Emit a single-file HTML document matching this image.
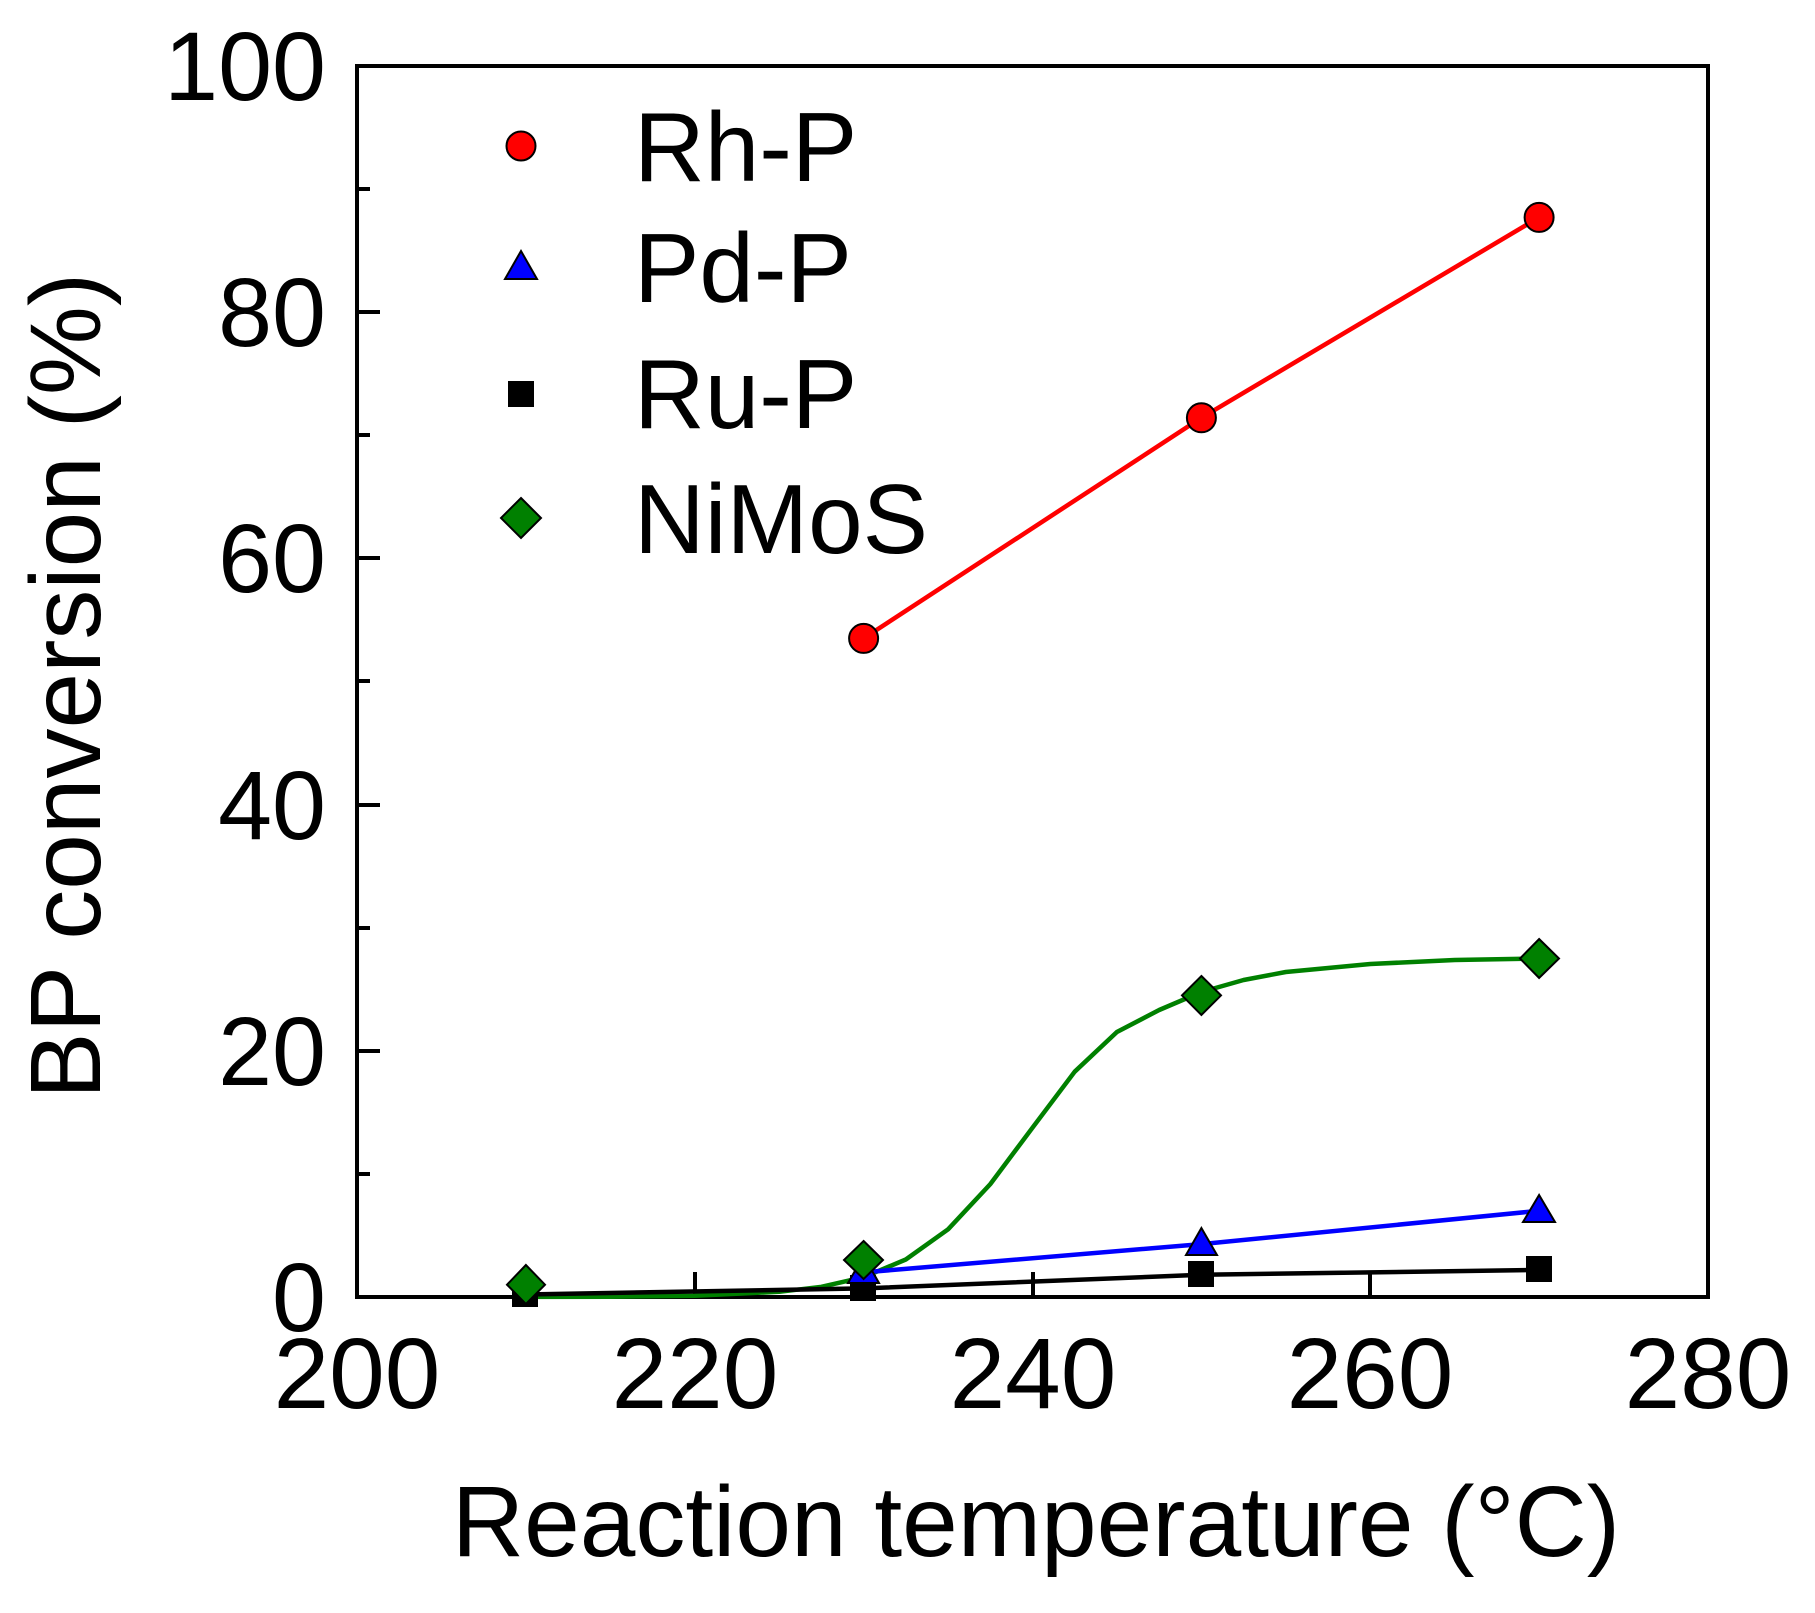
<!DOCTYPE html>
<html><head><meta charset="utf-8"><style>html,body{margin:0;padding:0;background:#fff;}</style></head>
<body>
<svg width="1815" height="1608" viewBox="0 0 1815 1608" xmlns="http://www.w3.org/2000/svg" font-family="Liberation Sans, Arial, sans-serif">
<rect width="1815" height="1608" fill="#fff"/>
<rect x="357" y="66" width="1351" height="1231" fill="none" stroke="#000" stroke-width="4"/>
<g stroke="#000" stroke-width="4">
<line x1="357" y1="189" x2="370" y2="189"/>
<line x1="357" y1="312" x2="380" y2="312"/>
<line x1="357" y1="435" x2="370" y2="435"/>
<line x1="357" y1="558" x2="380" y2="558"/>
<line x1="357" y1="681" x2="370" y2="681"/>
<line x1="357" y1="805" x2="380" y2="805"/>
<line x1="357" y1="928" x2="370" y2="928"/>
<line x1="357" y1="1051" x2="380" y2="1051"/>
<line x1="357" y1="1174" x2="370" y2="1174"/>
<line x1="695" y1="1297" x2="695" y2="1272"/>
<line x1="1033" y1="1297" x2="1033" y2="1272"/>
<line x1="1370" y1="1297" x2="1370" y2="1272"/>
</g>
<g font-size="97" text-anchor="end" fill="#000">
<text x="326" y="100">100</text>
<text x="326" y="346">80</text>
<text x="326" y="592">60</text>
<text x="326" y="839">40</text>
<text x="326" y="1085">20</text>
<text x="326" y="1331">0</text>
</g>
<g font-size="100" text-anchor="middle" fill="#000">
<text x="357" y="1408">200</text>
<text x="695" y="1408">220</text>
<text x="1033" y="1408">240</text>
<text x="1370" y="1408">260</text>
<text x="1708" y="1408">280</text>
</g>
<text x="1036" y="1556" font-size="100" text-anchor="middle">Reaction temperature (°C)</text>
<text transform="translate(100,686) rotate(-90)" font-size="100" text-anchor="middle">BP conversion (%)</text>
<g fill="none" stroke-width="4.5" stroke-linejoin="round">
<polyline points="525.9,1296.9 610.3,1296.7 694.8,1295.7 779.2,1291.8 821.4,1286.8 863.6,1277.2 905.8,1259.5 948.1,1229.3 990.3,1184.1 1032.5,1127.7 1074.7,1071.7 1116.9,1032 1159.2,1010 1201.4,992 1243.6,980 1285.8,972 1370.3,964 1454.7,960 1539.1,958.5" stroke="#008000"/>
<polyline points="525.9,1294.5 863.6,1288.4 1201.4,1274.8 1539.1,1269.9" stroke="#000"/>
<polyline points="863.6,1272.4 1201.4,1244.1 1539.1,1210.8" stroke="#0000ff"/>
<polyline points="863.6,638.4 1201.4,417.8 1539.1,217.4" stroke="#ff0000"/>
</g>
<g stroke="#000" stroke-width="2">
<g fill="#000">
<rect x="513" y="1282" width="24" height="24"/>
<rect x="851" y="1276" width="24" height="24"/>
<rect x="1189" y="1262" width="24" height="24"/>
<rect x="1527" y="1257" width="24" height="24"/>
</g>
<g fill="#0000ff">
<polygon points="863.6,1256 879,1283 848,1283"/>
<polygon points="1201.4,1228 1217,1255 1186,1255"/>
<polygon points="1539.1,1195 1555,1222 1523,1222"/>
</g>
<g fill="#008000">
<polygon points="525.9,1265 545,1284.7 525.9,1304 507,1284.7"/>
<polygon points="863.6,1241 883,1260 863.6,1279 844,1260"/>
<polygon points="1201.4,976 1221,995.4 1201.4,1015 1182,995.4"/>
<polygon points="1539.1,939 1559,958.5 1539.1,978 1520,958.5"/>
</g>
<g fill="#ff0000">
<circle cx="863.6" cy="638.4" r="14.5"/>
<circle cx="1201.4" cy="417.8" r="14.5"/>
<circle cx="1539.1" cy="217.4" r="14.5"/>
</g>
<circle cx="521" cy="146" r="14.5" fill="#ff0000"/>
<polygon points="521,251 537,279 505,279" fill="#0000ff"/>
<rect x="509" y="382" width="24" height="24" fill="#000"/>
<polygon points="521,498 541,518 521,538 501,518" fill="#008000"/>
</g>
<g font-size="98" fill="#000">
<text x="634" y="181">Rh-P</text>
<text x="634" y="302">Pd-P</text>
<text x="634" y="428">Ru-P</text>
<text x="634" y="553">NiMoS</text>
</g>
</svg>
</body></html>
